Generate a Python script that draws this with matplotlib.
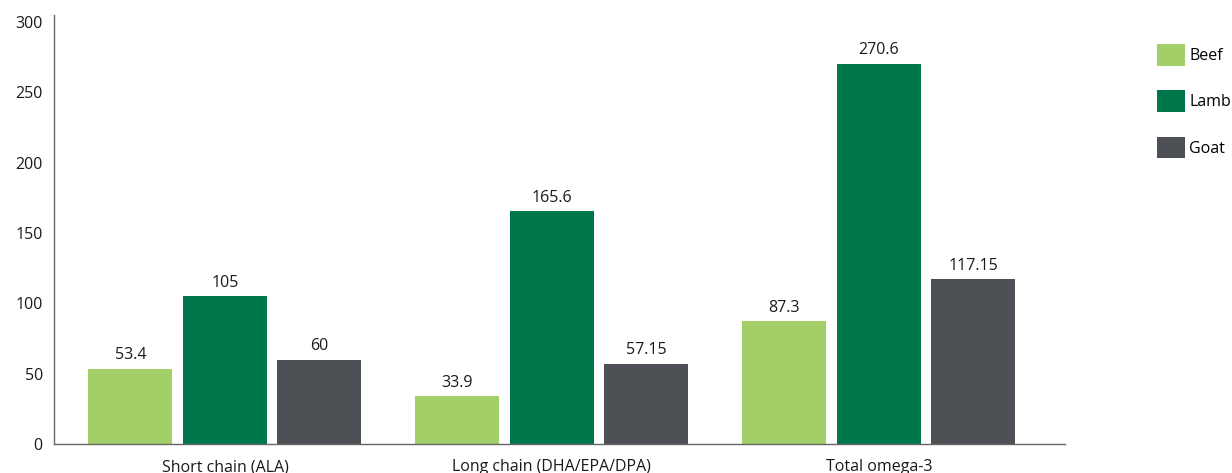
import numpy as np
import matplotlib.pyplot as plt

plt.rcParams['font.family'] = ['Open Sans', 'DejaVu Sans']

categories = ['Short chain (ALA)', 'Long chain (DHA/EPA/DPA)', 'Total omega-3']
series = ['Beef', 'Lamb', 'Goat']
beef = [53.4, 33.9, 87.3]
lamb = [105, 165.6, 270.6]
goat = [60, 57.15, 117.15]
value_labels = [['53.4', '33.9', '87.3'],
                ['105', '165.6', '270.6'],
                ['60', '57.15', '117.15']]
colors = ['#A2CF67', '#00774A', '#4D5054']
yticks = [0, 50, 100, 150, 200, 250, 300]

fig = plt.figure(figsize=(12.32, 4.73), dpi=100)
ax = fig.add_axes([0.0438, 0.0613, 0.8206, 0.9067])

x = np.arange(len(categories))
width = 0.257
pitch = 0.289
for i, (name, vals) in enumerate(zip(series, [beef, lamb, goat])):
    pos = x + (i - 1) * pitch
    bars = ax.bar(pos, vals, width, color=colors[i], label=name)
    for b, txt in zip(bars, value_labels[i]):
        ax.annotate(txt, (b.get_x() + b.get_width() / 2, b.get_height()),
                    xytext=(0, 4), textcoords='offset points',
                    ha='center', va='bottom', fontsize=11.5, color='#1a1a1a')

ax.set_xlim(-0.523, 2.569)
ax.set_ylim(0, 305)
ax.set_yticks(yticks)
ax.set_xticks(x)
ax.set_xticklabels(categories)
ax.tick_params(axis='both', length=0, labelsize=11.5, colors='#1a1a1a')
ax.tick_params(axis='x', pad=11)
ax.tick_params(axis='y', pad=8)
for s in ['top', 'right']:
    ax.spines[s].set_visible(False)
for s in ['left', 'bottom']:
    ax.spines[s].set_color('#666666')
    ax.spines[s].set_linewidth(1.0)

# legend sits in the right margin, squares at ~x=1158 px
ax.legend(loc='upper left', bbox_to_anchor=(0.9395, 0.907),
          bbox_transform=fig.transFigure, frameon=False, fontsize=11.5,
          handlelength=1.7, handleheight=1.7, labelspacing=1.55,
          handletextpad=0.3, borderaxespad=0, borderpad=0)

fig.savefig('out.png', dpi=100)
